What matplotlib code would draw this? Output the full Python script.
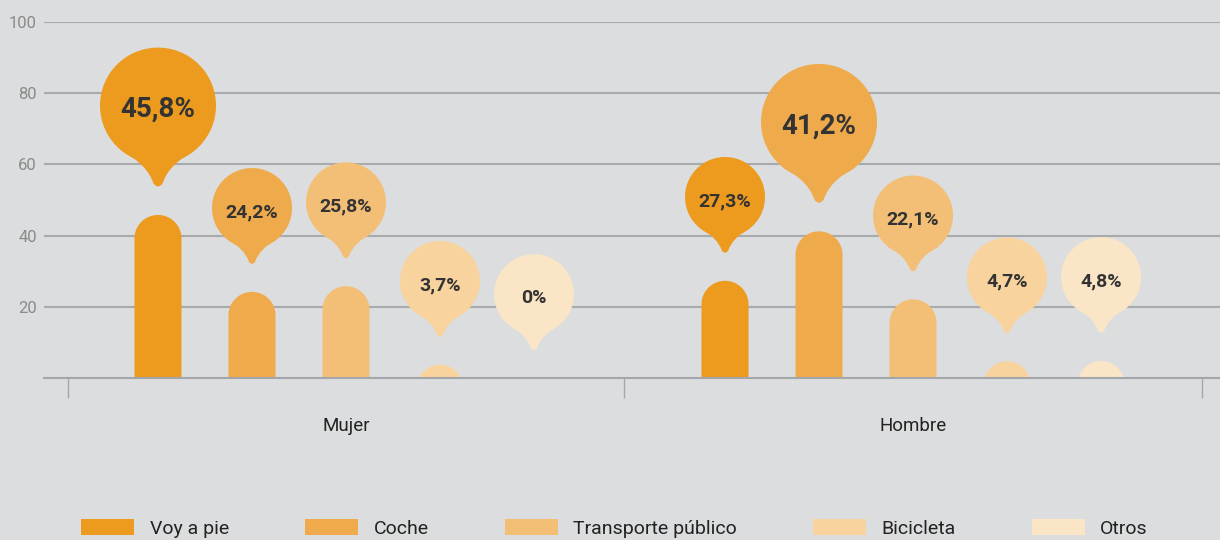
import numpy as np
import matplotlib.pyplot as plt
from matplotlib.patches import Patch, PathPatch
from matplotlib.path import Path
from matplotlib.transforms import Affine2D

plt.rcParams['font.family'] = ['Roboto', 'DejaVu Sans']

# Datos
grupos = ['Mujer', 'Hombre']
modos = ['Voy a pie', 'Coche', 'Transporte público', 'Bicicleta', 'Otros']
valores = {
    'Mujer': [45.8, 24.2, 25.8, 3.7, 0.0],
    'Hombre': [27.3, 41.2, 22.1, 4.7, 4.8],
}
etiquetas = {
    'Mujer': ['45,8%', '24,2%', '25,8%', '3,7%', '0%'],
    'Hombre': ['27,3%', '41,2%', '22,1%', '4,7%', '4,8%'],
}
colores = ['#ec9b1e', '#efaa4b', '#f3bf76', '#f8d39e', '#fae5c6']

fondo = '#dcddde'
gris_linea = '#a9aaab'

fig = plt.figure(figsize=(12.2, 5.4), dpi=100, facecolor=fondo)
ax = fig.add_axes([44 / 1220, 162 / 540, 1176 / 1220, 356 / 540])
ax.set_facecolor(fondo)
ax.set_xlim(-0.5326, 1.5414)
ax.set_ylim(0, 100)

# px por unidad en x
p0 = ax.transData.transform((0, 0))
p1 = ax.transData.transform((1, 1))
px_x = p1[0] - p0[0]

bar_w_px = 47
paso_px = 94
r_bar = bar_w_px / 2


def barra(H, r):
    # barra con tapa redonda, en pixeles, base en (0, 0)
    t = np.linspace(0, np.pi, 60)
    tapa = np.column_stack([r * np.cos(t), (H - r) + r * np.sin(t)])
    base_y = min(0, H - r)
    verts = np.vstack([[(-r, base_y), (r, base_y)], tapa, [(-r, base_y)]])
    return Path(verts, closed=True)


def globo(R):
    # circulo + cola, en pixeles, con la punta en (0, 0)
    t = np.linspace(0, 2 * np.pi, 120)
    cy = 1.42 * R
    circ = Path(np.column_stack([R * np.cos(t), cy + R * np.sin(t)]), closed=True)
    a = np.radians(38)
    sx, sy = R * np.sin(a), cy - R * np.cos(a)
    verts = [
        (-sx, sy),
        (-0.18 * R, cy - 1.02 * R), (-0.08 * R, 0.08 * R),
        (0, -0.03 * R), (0.08 * R, 0.08 * R),
        (0.18 * R, cy - 1.02 * R), (sx, sy),
        (0, cy), (-sx, sy),
    ]
    codes = [Path.MOVETO, Path.CURVE3, Path.CURVE3, Path.CURVE3, Path.CURVE3,
             Path.CURVE3, Path.CURVE3, Path.LINETO, Path.CLOSEPOLY]
    cola = Path(verts, codes)
    return circ, cola, cy


for gi, g in enumerate(grupos):
    vals = valores[g]
    vmax = max(vals)
    for i, v in enumerate(vals):
        x = gi + (i - 2) * paso_px / px_x
        c = colores[i]
        base = ax.transData.transform((x, 0))
        top = ax.transData.transform((x, v))
        H = top[1] - base[1]
        if v > 0:
            ax.add_patch(PathPatch(barra(H, r_bar), facecolor=c, edgecolor='none',
                                   transform=Affine2D().translate(*base), zorder=2))
        # globo
        R = 58 if v == vmax else 40
        tip = top + np.array([0, 27])
        circ, cola, cy = globo(R)
        tr = Affine2D().translate(tip[0], tip[1])
        for p in (circ, cola):
            ax.add_patch(PathPatch(p, facecolor=c, edgecolor='none',
                                   transform=tr, zorder=3, clip_on=False))
        ax.annotate(etiquetas[g][i], xy=(x, v), xytext=(0, 27 + cy - 4),
                    textcoords='offset pixels', ha='center', va='center',
                    fontsize=20 if v == vmax else 14,
                    fontweight='bold' if v == vmax else 'semibold',
                    color='#333333', zorder=4)

# ejes
for s in ['top', 'right', 'left']:
    ax.spines[s].set_visible(False)
ax.spines['bottom'].set_color('#a3a7a9')
ax.spines['bottom'].set_linewidth(1.5)
ax.set_yticks([20, 40, 60, 80, 100])
ax.tick_params(axis='y', length=0, pad=5, labelsize=12, labelcolor='#8a8a8a')
ax.yaxis.grid(True, color=gris_linea, linewidth=1.5)
ax.set_axisbelow(True)

ax.set_xticks([-0.49, 0.49, 1.51])
ax.set_xticklabels([])
ax.tick_params(axis='x', which='major', length=14.4, width=1, color='#a3a7a9')
ax.set_xticks([0, 1], minor=True)
ax.set_xticklabels(grupos, minor=True)
ax.tick_params(axis='x', which='minor', length=0, pad=28, labelsize=13.5,
               labelcolor='#222222')

# leyenda
handles = [Patch(facecolor=c, edgecolor='none', label=m) for c, m in zip(colores, modos)]
fig.legend(handles=handles, loc='center left', bbox_to_anchor=(0.0587, 0.021),
           ncol=5, frameon=False, fontsize=14, handlelength=2.73, handleheight=0.9,
           handletextpad=0.8, columnspacing=3.9, borderpad=0, labelcolor='#222222')

fig.savefig('out.png', dpi=100, facecolor=fondo)
